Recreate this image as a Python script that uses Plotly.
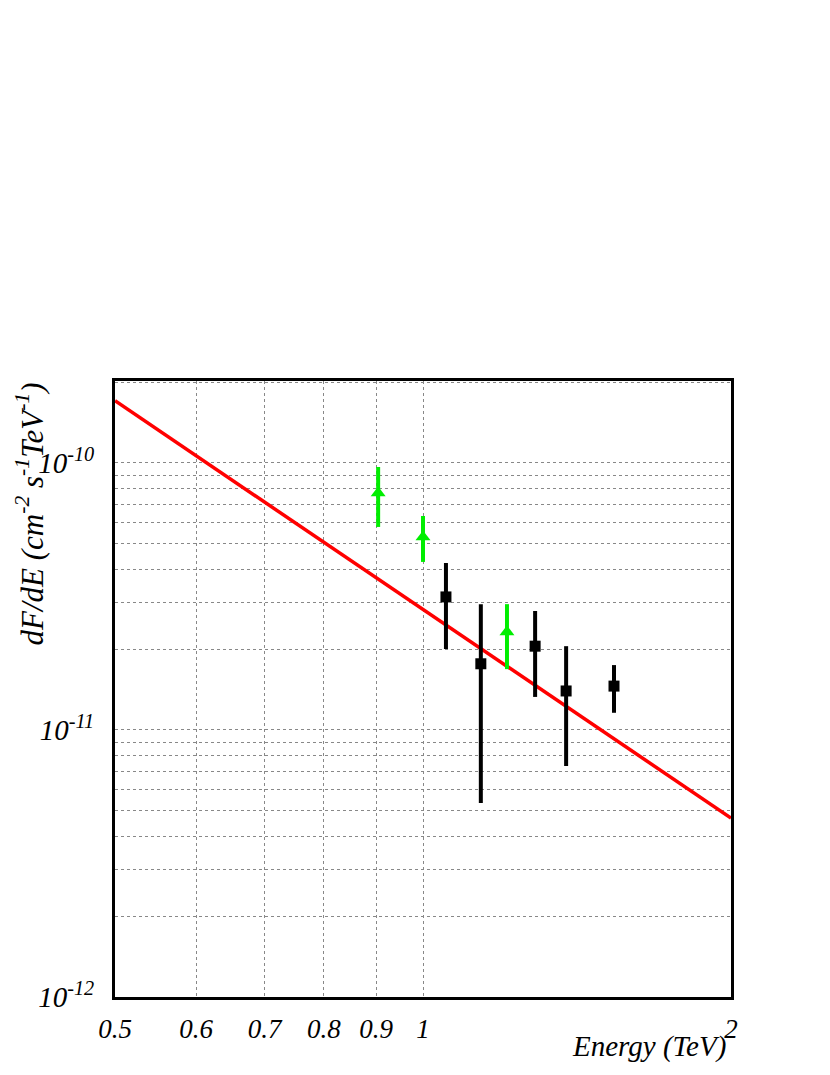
import plotly.graph_objects as go

# 黑色方點：能譜量測
energy = [1.053, 1.139, 1.287, 1.380, 1.537]
flux = [3.15e-11, 1.77e-11, 2.06e-11, 1.40e-11, 1.46e-11]
flux_hi = [4.22e-11, 2.96e-11, 2.79e-11, 2.06e-11, 1.75e-11]
flux_lo = [2.01e-11, 5.33e-12, 1.33e-11, 7.33e-12, 1.16e-11]

# 綠色三角：下限
energy_lim = [0.904, 1.0, 1.208]
flux_lim = [7.72e-11, 5.28e-11, 2.33e-11]
flux_lim_hi = [9.66e-11, 6.33e-11, 2.96e-11]
flux_lim_lo = [5.76e-11, 4.26e-11, 1.69e-11]

# 紅線：power-law fit 兩端
fit_energy = [0.5, 2.0]
fit_flux = [1.71e-10, 4.68e-12]

# 軸刻度
x_ticks = [0.5, 0.6, 0.7, 0.8, 0.9, 1, 2]
x_labels = ['0.5', '0.6', '0.7', '0.8', '0.9', '1', '2']
y_decades = [-12, -11, -10]
y_ticks = [10.0 ** e for e in y_decades]
y_labels = ['10<sup>%d</sup>' % e for e in y_decades]
y_minor = [m * 10.0 ** e for e in y_decades for m in range(2, 10)]

serif = 'Liberation Serif'

fig = go.Figure()

fig.add_trace(go.Scatter(
    x=fit_energy, y=fit_flux, mode='lines',
    line=dict(color='#ff0000', width=3.5),
))

fig.add_trace(go.Scatter(
    x=energy_lim, y=flux_lim, mode='markers',
    marker=dict(symbol='triangle-up', size=13, color='#00ee00'),
    error_y=dict(type='data', symmetric=False,
                 array=[h - v for h, v in zip(flux_lim_hi, flux_lim)],
                 arrayminus=[v - l for v, l in zip(flux_lim, flux_lim_lo)],
                 color='#00ee00', thickness=4, width=0),
))

fig.add_trace(go.Scatter(
    x=energy, y=flux, mode='markers',
    marker=dict(symbol='square', size=11, color='black'),
    error_y=dict(type='data', symmetric=False,
                 array=[h - v for h, v in zip(flux_hi, flux)],
                 arrayminus=[v - l for v, l in zip(flux, flux_lo)],
                 color='black', thickness=4, width=0),
))

grid = dict(showgrid=True, gridcolor='#888888', griddash='dot', gridwidth=1)

fig.update_xaxes(
    type='log', range=[-0.30103, 0.30103], automargin=False,
    tickmode='array', tickvals=x_ticks, ticktext=['<i>%s</i>' % t for t in x_labels],
    tickfont=dict(family=serif, size=27, color='black'),
    ticks='', ticklabelstandoff=6,
    showline=True, mirror=True, linecolor='black', linewidth=3,
    zeroline=False, **grid,
)
fig.update_yaxes(
    type='log', range=[-12, -9.693], automargin=False,
    tickmode='array', tickvals=y_ticks,
    ticktext=['<i>%s</i>' % t for t in y_labels],
    tickfont=dict(family=serif, size=29, color='black'),
    ticks='', ticklabelstandoff=12,
    minor=dict(tickmode='array', tickvals=y_minor, ticks='', **grid),
    showline=True, mirror=True, linecolor='black', linewidth=3,
    zeroline=False, **grid,
)

fig.add_annotation(
    text='<i>Energy (TeV)</i>', xref='paper', yref='paper',
    x=1, y=0, xanchor='right', yanchor='top', yshift=-31, xshift=-3,
    showarrow=False, font=dict(family=serif, size=29, color='black'),
)
fig.add_annotation(
    text='<i>dF/dE (cm<sup>-2</sup> s<sup>-1</sup>TeV<sup>-1</sup>)</i>',
    xref='paper', yref='paper', x=0, y=1, xanchor='center', yanchor='top',
    xshift=-85, textangle=-90,
    showarrow=False, font=dict(family=serif, size=31, color='black'),
)

# 頁面 body 預設 8px 邊距，圖尺寸扣掉
fig.update_layout(
    width=822, height=1067,
    margin=dict(l=107, r=99, t=373, b=78),
    paper_bgcolor='white', plot_bgcolor='white',
    showlegend=False,
)

fig.write_html('out.html')
